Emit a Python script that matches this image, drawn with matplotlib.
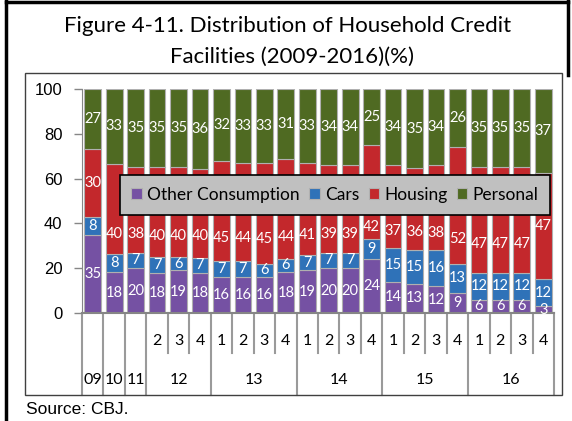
import numpy as np
import matplotlib
matplotlib.use("Agg")
import matplotlib.pyplot as plt
from matplotlib.lines import Line2D
from matplotlib.patches import Rectangle
from matplotlib.transforms import blended_transform_factory

# ------------ Data ---------------
years = ["09", "10", "11", "12", "13", "14", "15", "16"]
year_sizes = [1, 1, 1, 3, 4, 4, 4, 4]
quarters = ["", "", "", "2", "3", "4",
            "1", "2", "3", "4", "1", "2", "3", "4",
            "1", "2", "3", "4", "1", "2", "3", "4"]

series = ["Other Consumption", "Cars", "Housing", "Personal"]
other = [35, 18, 20, 18, 19, 18, 16, 16, 16, 18, 19, 20, 20, 24, 14, 13, 12, 9, 6, 6, 6, 3]
cars = [8, 8, 7, 7, 6, 7, 7, 7, 6, 6, 7, 7, 7, 9, 15, 15, 16, 13, 12, 12, 12, 12]
housing = [30, 40, 38, 40, 40, 40, 45, 44, 45, 44, 41, 39, 39, 42, 37, 36, 38, 52, 47, 47, 47, 47]
personal = [27, 33, 35, 35, 35, 36, 32, 33, 33, 31, 33, 34, 34, 25, 34, 35, 34, 26, 35, 35, 35, 37]
colors = ["#7551a3", "#2f72b8", "#c3282c", "#4f6a22"]

W, H = 572, 421

def fx(px):
    return px / W

def fy(py):
    return 1 - py / H

# ------------ Figure ---------------
fig = plt.figure(figsize=(W / 100, H / 100), dpi=100)
fig.patch.set_facecolor("white")

# outer frame and inner chart box
fig.add_artist(Line2D([fx(6), fx(6)], [0, 1], color="black", lw=2.5, transform=fig.transFigure))
fig.add_artist(Line2D([fx(6), fx(568)], [fy(1.5), fy(1.5)], color="black", lw=2.5, transform=fig.transFigure))
fig.add_artist(Line2D([fx(568), fx(568)], [fy(0), fy(75)], color="black", lw=2.5, transform=fig.transFigure))
fig.add_artist(Rectangle((fx(25), fy(395)), fx(562) - fx(25), fy(73) - fy(395),
                         fill=False, edgecolor="#404040", lw=1, transform=fig.transFigure))

fig.text(fx(288), fy(26), "Figure 4-11. Distribution of Household Credit",
         family="Lato", fontsize=16, ha="center", va="center")
fig.text(fx(292), fy(57), "Facilities (2009-2016)(%)",
         family="Lato", fontsize=16, ha="center", va="center")

ax = fig.add_axes([fx(82), fy(313), fx(554) - fx(82), fy(89) - fy(313)])
x = np.arange(len(other))
data = np.array([other, cars, housing, personal], dtype=float)
# 100% stacked: each bar scaled to its total
share = data / data.sum(axis=0) * 100

bottom = np.zeros(len(x))
handles = []
segs = []
for name, vals, sh, col in zip(series, data, share, colors):
    b = ax.bar(x, sh, bottom=bottom, width=0.78, color=col,
               edgecolor="#b0b0b0", linewidth=0.8, label=name)
    handles.append(b)
    segs.append((vals, bottom.copy(), sh))
    bottom += sh

ax.set_xlim(-0.5, len(x) - 0.5)
ax.set_ylim(0, 100)
ax.set_yticks([0, 20, 40, 60, 80, 100])
ax.tick_params(axis="y", length=6, width=1, color="#868686", pad=8)
for lbl in ax.get_yticklabels():
    lbl.set_family("Liberation Sans")
    lbl.set_fontsize(12)
ax.set_xticks([])
for s in ["top", "right"]:
    ax.spines[s].set_visible(False)
ax.spines["left"].set_color("#868686")
ax.spines["bottom"].set_color("#868686")
ax.spines["bottom"].set_linewidth(1.5)

# two-level category axis
tr = blended_transform_factory(ax.transData, fig.transFigure)
year_edges = np.concatenate([[0], np.cumsum(year_sizes)]) - 0.5
for e in np.arange(-0.5, len(x), 1.0):
    if np.any(np.isclose(year_edges, e)):
        y_end = 395
    else:
        y_end = 353
    ax.add_line(Line2D([e, e], [fy(313), fy(y_end)], color="#9a9a9a", lw=1.5,
                       transform=tr, clip_on=False))
for xi, q in zip(x, quarters):
    if q:
        ax.text(xi, fy(341), q, transform=tr, family="Lato", fontsize=11.5,
                ha="center", va="center")
for i, yr in enumerate(years):
    c = (year_edges[i] + year_edges[i + 1]) / 2
    ax.text(c, fy(380), yr, transform=tr, family="Lato", fontsize=11.5,
            ha="center", va="center")

leg = fig.legend(handles=handles, loc="center", bbox_to_anchor=(fx(335), fy(195)),
                 ncol=4, fancybox=False, facecolor="#c0c0c0", edgecolor="black",
                 framealpha=1, handlelength=0.6, handleheight=0.6, handletextpad=0.3,
                 columnspacing=0.55, borderpad=0.68,
                 prop={"family": "Lato", "size": 12.5})
leg.get_frame().set_linewidth(1.2)

# data labels, kept in the part of the segment below the legend when it hides them
fig.canvas.draw()
bb = leg.get_window_extent().transformed(ax.transData.inverted())
half = 3.0  # half a label's height, in axis units
for vals, b0s, shs in segs:
    for xi, v, b0, sh in zip(x, vals, b0s, shs):
        lo, hi = b0, b0 + sh
        yc = (lo + hi) / 2
        if bb.x0 < xi + 0.3 and xi - 0.3 < bb.x1 and bb.y0 - half < yc < bb.y1 + half:
            if bb.y0 - lo > 6:
                yc = (lo + bb.y0) / 2
            else:
                yc = (bb.y1 + hi) / 2
        ax.text(xi, yc, "%d" % v, color="white", family="Lato",
                fontsize=10.5, ha="center", va="center")

fig.text(fx(26), fy(409), "Source: CBJ.", family="Liberation Sans", fontsize=12.5,
         ha="left", va="center")

fig.savefig("out.png", dpi=100)
